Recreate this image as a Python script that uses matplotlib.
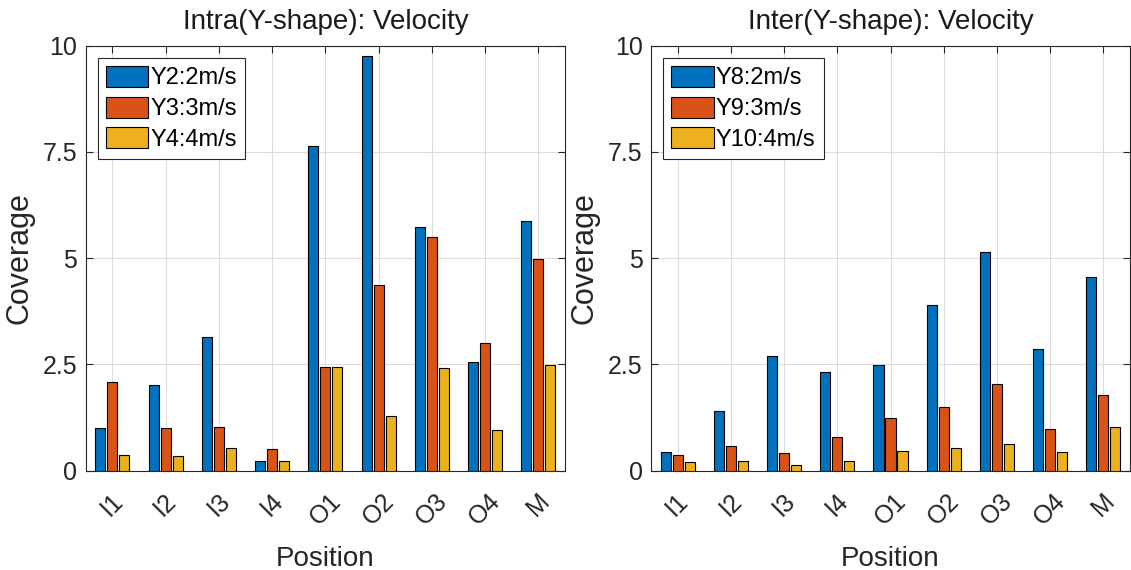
import numpy as np
import matplotlib.pyplot as plt

positions = ['I1', 'I2', 'I3', 'I4', 'O1', 'O2', 'O3', 'O4', 'M']

intra_labels = ['Y2:2m/s', 'Y3:3m/s', 'Y4:4m/s']
intra_y2 = [1.01, 2.02, 3.15, 0.24, 7.64, 9.76, 5.73, 2.56, 5.88]
intra_y3 = [2.08, 1.01, 1.03, 0.52, 2.43, 4.38, 5.51, 3.00, 4.98]
intra_y4 = [0.36, 0.34, 0.53, 0.24, 2.43, 1.28, 2.41, 0.95, 2.49]

inter_labels = ['Y8:2m/s', 'Y9:3m/s', 'Y10:4m/s']
inter_y8 = [0.44, 1.41, 2.70, 2.32, 2.49, 3.91, 5.15, 2.86, 4.56]
inter_y9 = [0.36, 0.58, 0.41, 0.79, 1.23, 1.50, 2.05, 0.98, 1.79]
inter_y10 = [0.20, 0.24, 0.14, 0.22, 0.46, 0.53, 0.62, 0.44, 1.03]

colors = ['#0072BD', '#D95319', '#EDB120']

plt.rcParams['font.family'] = ['Liberation Sans', 'DejaVu Sans']

fig = plt.figure(figsize=(11.31, 5.70), dpi=100)
W, H = 1131, 570
ax1 = fig.add_axes([85.7 / W, 1 - 470.7 / H, (565 - 85.7) / W, 425 / H])
ax2 = fig.add_axes([651 / W, 1 - 470.7 / H, (1130 - 651) / W, 425 / H])


def draw(ax, series, labels, title):
    x = np.arange(1, len(positions) + 1)
    width = 0.19
    offsets = [-0.225, 0, 0.225]
    for vals, lab, c, off in zip(series, labels, colors, offsets):
        ax.bar(x + off, vals, width, color=c, edgecolor='black',
               linewidth=0.8, label=lab, zorder=3)
    ax.set_xlim(0.5, 9.5)
    ax.set_ylim(0, 10)
    ax.set_xticks(x)
    ax.set_xticklabels(positions, rotation=45, fontsize=18)
    ax.set_yticks([0, 2.5, 5, 7.5, 10])
    ax.set_yticklabels(['0', '2.5', '5', '7.5', '10'], fontsize=18)
    ax.tick_params(direction='in', top=True, right=True, length=5,
                   width=0.8, colors='#262626', pad=6)
    ax.tick_params(axis='x', pad=13)
    ax.grid(True, color='#dcdcdc', linewidth=0.8, zorder=0)
    ax.set_axisbelow(True)
    for s in ax.spines.values():
        s.set_color('#262626')
        s.set_linewidth(0.8)
    ax.set_title(title, fontsize=20, color='#1a1a1a', pad=12)
    ax.set_xlabel('Position', fontsize=20, color='#262626', labelpad=12)
    ax.set_ylabel('Coverage', fontsize=22, color='#262626', labelpad=6)
    leg = ax.legend(loc='upper left', fontsize=17, handlelength=1.8,
                    handleheight=1.0, handletextpad=0.1, labelspacing=0.3,
                    borderpad=0.35, borderaxespad=0.5, fancybox=False,
                    framealpha=1, edgecolor='#262626')
    leg.get_frame().set_linewidth(0.8)


draw(ax1, [intra_y2, intra_y3, intra_y4], intra_labels, 'Intra(Y-shape): Velocity')
draw(ax2, [inter_y8, inter_y9, inter_y10], inter_labels, 'Inter(Y-shape): Velocity')

fig.savefig('out.png', dpi=100)
